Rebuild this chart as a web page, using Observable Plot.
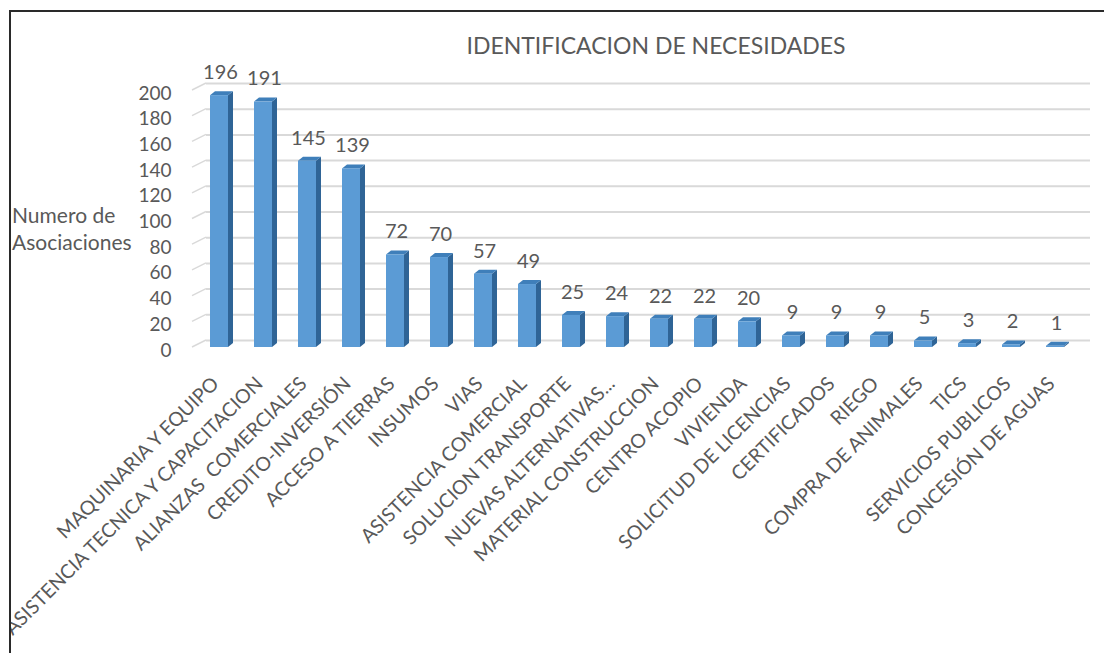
<!DOCTYPE html>
<html>
<head>
<meta charset="utf-8">
<script src="https://cdn.jsdelivr.net/npm/d3@7"></script>
<script src="https://cdn.jsdelivr.net/npm/@observablehq/plot@0.6"></script>
<style>
  html, body { margin: 0; padding: 0; background: #fff; }
  body { width: 1104px; height: 653px; position: relative; overflow: hidden; font-family: Lato, "Open Sans", sans-serif; }
  #frame { position: absolute; left: 9px; top: 10px; width: 1110px; height: 660px; border-left: 2px solid #2a2a2a; border-top: 2px solid #2a2a2a; overflow: hidden; }
  #chart { position: absolute; left: -11px; top: -12px; }
  .title { position: absolute; left: 656px; top: 45px; transform: translate(-50%, -50%); font-size: 23px; color: #595959; white-space: nowrap; }
  .ylab { position: absolute; left: 12px; top: 201px; font-size: 21px; color: #595959; line-height: 27px; white-space: nowrap; }
</style>
</head>
<body>
<div id="frame"><div id="chart"></div></div>
<div class="title">IDENTIFICACION DE NECESIDADES</div>
<div class="ylab">Numero de<br>Asociaciones</div>
<script>
const categories = [
  "MAQUINARIA Y EQUIPO",
  "ASISTENCIA TECNICA Y CAPACITACION",
  "ALIANZAS  COMERCIALES",
  "CREDITO-INVERSIÓN",
  "ACCESO A TIERRAS",
  "INSUMOS",
  "VIAS",
  "ASISTENCIA COMERCIAL",
  "SOLUCION TRANSPORTE",
  "NUEVAS ALTERNATIVAS...",
  "MATERIAL CONSTRUCCION",
  "CENTRO ACOPIO",
  "VIVIENDA",
  "SOLICITUD DE LICENCIAS",
  "CERTIFICADOS",
  "RIEGO",
  "COMPRA DE ANIMALES",
  "TICS",
  "SERVICIOS PUBLICOS",
  "CONCESIÓN DE AGUAS"
];
const values = [196, 191, 145, 139, 72, 70, 57, 49, 25, 24, 22, 22, 20, 9, 9, 9, 5, 3, 2, 1];
const yTicks = [0, 20, 40, 60, 80, 100, 120, 140, 160, 180, 200];

const data = categories.map((c, i) => ({cat: c, val: values[i]}));
const NS = "http://www.w3.org/2000/svg";
const textColor = "#595959";
const DX = 5, DY = -4;

const chart = Plot.plot({
  width: 1104,
  height: 653,
  marginLeft: 195,
  marginRight: 25,
  marginTop: 90,
  marginBottom: 306,
  style: {fontFamily: "Lato, 'Open Sans', sans-serif", color: textColor, background: "transparent", overflow: "visible"},
  x: {domain: categories, paddingInner: 0.59, paddingOuter: 0.295, label: null},
  y: {domain: [0, 200], label: null},
  marks: [
    Plot.ruleY(yTicks, {stroke: "#d9d9d9", strokeWidth: 2, dx: 11, dy: -7}),
    (index, scales, values_, dims) => {
      const g = document.createElementNS(NS, "g");
      for (const t of yTicks) {
        const y = scales.y(t);
        const l = document.createElementNS(NS, "line");
        l.setAttribute("x1", dims.marginLeft - 3);
        l.setAttribute("y1", y);
        l.setAttribute("x2", dims.marginLeft + 11);
        l.setAttribute("y2", y - 7);
        l.setAttribute("stroke", "#d9d9d9");
        l.setAttribute("stroke-width", 1.5);
        g.appendChild(l);
      }
      return g;
    },
    Plot.barY(data, {
      x: "cat", y: "val", fill: "#5b9bd5",
      render(index, scales, vals, dims, ctx, next) {
        const g = next(index, scales, vals, dims, ctx);
        const rects = Array.from(g.querySelectorAll("rect"));
        for (const r of rects) {
          const x = +r.getAttribute("x"), y = +r.getAttribute("y");
          const w = +r.getAttribute("width"), h = +r.getAttribute("height");
          const side = document.createElementNS(NS, "polygon");
          side.setAttribute("points", `${x + w},${y} ${x + w + DX},${y + DY} ${x + w + DX},${y + h + DY} ${x + w},${y + h}`);
          side.setAttribute("fill", "#2f6496");
          const top = document.createElementNS(NS, "polygon");
          top.setAttribute("points", `${x},${y} ${x + DX},${y + DY} ${x + w + DX},${y + DY} ${x + w},${y}`);
          top.setAttribute("fill", "#3f7fba");
          g.insertBefore(side, r);
          g.insertBefore(top, r);
        }
        return g;
      }
    }),
    Plot.text(data, {x: "cat", y: "val", text: d => String(d.val), dy: -23, dx: 1, fontSize: 20, fill: textColor}),
    Plot.axisY(yTicks, {tickSize: 0, tickPadding: 24, fontSize: 19, dy: 3, fill: textColor}),
    Plot.axisX({tickSize: 0, tickPadding: 33, dx: -4, tickRotate: -45, fontSize: 19.5, fill: textColor})
  ]
});
document.getElementById("chart").appendChild(chart);
</script>
</body>
</html>
